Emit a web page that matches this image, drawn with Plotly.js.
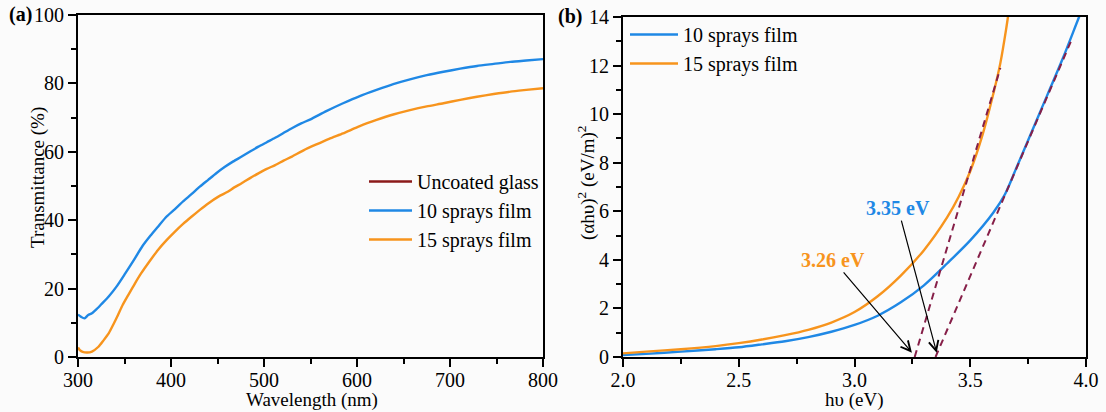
<!DOCTYPE html>
<html>
<head>
<meta charset="utf-8">
<script src="https://cdn.plot.ly/plotly-3.0.1.min.js"></script>
<style>html,body{margin:0;padding:0;background:#fbfbfb;}#chart{width:1106px;height:412px;}</style>
</head>
<body>
<div id="chart"></div>
<script>
// ---- Panel (a): transmittance spectra ----
const wl10 = [300, 303, 307, 311, 315, 320, 326, 333, 342, 351, 360, 369, 378, 386, 395, 404, 413, 422, 431, 440, 449, 458, 467, 476, 485, 494, 503, 512, 521, 530, 540, 550, 567, 585, 603, 621, 639, 657, 675, 693, 711, 729, 747, 765, 782, 800];
const t10  = [12.4, 11.8, 11.3, 12.3, 12.8, 14.0, 15.7, 17.7, 20.8, 24.5, 28.3, 32.3, 35.5, 38.1, 41.0, 43.2, 45.5, 47.6, 49.8, 51.8, 53.8, 55.6, 57.2, 58.6, 60.1, 61.5, 62.8, 64.1, 65.5, 66.9, 68.3, 69.5, 71.9, 74.2, 76.3, 78.1, 79.8, 81.2, 82.4, 83.4, 84.3, 85.1, 85.7, 86.3, 86.7, 87.1];
const wl15 = [300, 302, 305, 310, 315, 322, 327, 333, 338, 343, 348, 354, 361, 368, 377, 386, 395, 404, 413, 422, 431, 440, 451, 461, 468, 476, 485, 494, 503, 512, 521, 530, 543, 555, 570, 585, 603, 621, 639, 657, 675, 693, 711, 729, 747, 765, 782, 800];
const t15  = [2.8, 2.0, 1.5, 1.3, 1.6, 3.0, 4.7, 6.9, 9.5, 12.3, 15.2, 18.1, 21.4, 24.5, 28.0, 31.3, 34.1, 36.6, 38.9, 41.0, 43.0, 44.9, 46.9, 48.3, 49.6, 50.8, 52.3, 53.7, 55.0, 56.1, 57.4, 58.6, 60.5, 62.0, 63.8, 65.4, 67.5, 69.3, 70.9, 72.2, 73.3, 74.2, 75.2, 76.1, 76.9, 77.6, 78.1, 78.6];
// "Uncoated glass" appears in the legend only; no curve is visible in the plot
const wlGlass = [null];
const tGlass  = [null];

// ---- Panel (b): Tauc plot ----
const e10 = [2.00, 2.10, 2.25, 2.40, 2.50, 2.60, 2.70, 2.80, 2.90, 3.00, 3.10, 3.20, 3.30, 3.40, 3.50, 3.60, 3.65, 3.70, 3.80, 3.90, 3.97, 4.00];
const a10 = [0.08, 0.13, 0.22, 0.32, 0.40, 0.52, 0.65, 0.82, 1.04, 1.32, 1.70, 2.25, 2.95, 3.85, 4.80, 5.95, 6.70, 7.80, 10.05, 12.30, 14.00, 14.70];
const e15 = [2.00, 2.10, 2.25, 2.40, 2.50, 2.60, 2.70, 2.80, 2.90, 3.00, 3.10, 3.20, 3.30, 3.40, 3.45, 3.50, 3.55, 3.60, 3.63, 3.655, 3.675];
const a15 = [0.15, 0.22, 0.32, 0.45, 0.57, 0.72, 0.90, 1.12, 1.42, 1.85, 2.50, 3.35, 4.40, 5.75, 6.60, 7.65, 9.05, 10.85, 12.10, 13.50, 14.80];
// linear fits (tangents) used for the band-gap extrapolation
const fit15E = [3.26, 3.63];
const fit15A = [0.0, 11.9];
const fit10E = [3.35, 3.935];
const fit10A = [0.0, 13.0];
// band-gap labels
const gapLabels = ['3.26 eV', '3.35 eV'];
const gapValues = [3.26, 3.35];

const BLUE = '#1f88e5';
const ORANGE = '#f7941d';
const GLASS = '#8b1a1a';
const FIT = '#861f48';
const FONT = 'Liberation Serif';

const traces = [
  {x: wlGlass, y: tGlass, type: 'scatter', mode: 'lines', name: 'Uncoated glass', showlegend: true,
   line: {color: GLASS, width: 2.4}, xaxis: 'x', yaxis: 'y', legend: 'legend'},
  {x: wl10, y: t10, type: 'scatter', mode: 'lines', name: '10 sprays film',
   line: {color: BLUE, width: 2.4, shape: 'spline', smoothing: 0.6}, xaxis: 'x', yaxis: 'y', legend: 'legend'},
  {x: wl15, y: t15, type: 'scatter', mode: 'lines', name: '15 sprays film',
   line: {color: ORANGE, width: 2.4, shape: 'spline', smoothing: 0.6}, xaxis: 'x', yaxis: 'y', legend: 'legend'},
  {x: e10, y: a10, type: 'scatter', mode: 'lines', name: '10 sprays film',
   line: {color: BLUE, width: 2.4, shape: 'spline', smoothing: 0.8}, xaxis: 'x2', yaxis: 'y2', legend: 'legend2'},
  {x: e15, y: a15, type: 'scatter', mode: 'lines', name: '15 sprays film',
   line: {color: ORANGE, width: 2.4, shape: 'spline', smoothing: 0.8}, xaxis: 'x2', yaxis: 'y2', legend: 'legend2'},
  {x: fit15E, y: fit15A, type: 'scatter', mode: 'lines', showlegend: false,
   line: {color: FIT, width: 2, dash: '7px,5px'}, xaxis: 'x2', yaxis: 'y2'},
  {x: fit10E, y: fit10A, type: 'scatter', mode: 'lines', showlegend: false,
   line: {color: FIT, width: 2, dash: '7px,5px'}, xaxis: 'x2', yaxis: 'y2'}
];

const W = 1106, H = 412;
const px = v => v / W;
const py = v => 1 - v / H;

function axisBase() {
  return {
    showline: true, linewidth: 2, linecolor: '#000', mirror: true,
    showgrid: false, zeroline: false, ticks: 'outside', ticklen: 8, tickwidth: 2, tickcolor: '#000',
    tickfont: {family: FONT, size: 20, color: '#000'}, automargin: false
  };
}

function ann(text, x, y, extra) {
  return Object.assign({text: text, xref: 'paper', yref: 'paper', x: x, y: y, showarrow: false,
    xanchor: 'center', yanchor: 'middle', font: {family: FONT, size: 19, color: '#000'}}, extra || {});
}

const layout = {
  width: W, height: H,
  margin: {l: 0, r: 0, t: 0, b: 0},
  paper_bgcolor: '#fbfbfb', plot_bgcolor: '#fbfbfb',
  font: {family: FONT, size: 20, color: '#000'},
  xaxis: Object.assign(axisBase(), {domain: [px(78), px(543)], range: [300, 800], dtick: 100, tick0: 300,
    ticklabelstandoff: -4,
    minor: {dtick: 50, ticks: 'outside', ticklen: 5, tickwidth: 2, tickcolor: '#000'}, anchor: 'y'}),
  yaxis: Object.assign(axisBase(), {domain: [1 - 357 / H, 1 - 15 / H], range: [0, 100], dtick: 20, tick0: 0,
    minor: {dtick: 10, ticks: 'outside', ticklen: 5, tickwidth: 2, tickcolor: '#000'}, anchor: 'x'}),
  xaxis2: Object.assign(axisBase(), {domain: [px(623), px(1086)], range: [2, 4], dtick: 0.5, tick0: 2, tickformat: '.1f',
    ticklabelstandoff: -4,
    minor: {dtick: 0.25, ticks: 'outside', ticklen: 5, tickwidth: 2, tickcolor: '#000'}, anchor: 'y2'}),
  yaxis2: Object.assign(axisBase(), {domain: [1 - 357 / H, 1 - 17 / H], range: [0, 14], dtick: 2, tick0: 0,
    minor: {dtick: 1, ticks: 'outside', ticklen: 5, tickwidth: 2, tickcolor: '#000'}, anchor: 'x2'}),
  legend: {x: px(364), y: py(162), xanchor: 'left', yanchor: 'top', bgcolor: 'rgba(0,0,0,0)',
    font: {family: FONT, size: 20, color: '#000'}, tracegroupgap: 0, itemwidth: 43},
  legend2: {x: px(625), y: py(15), xanchor: 'left', yanchor: 'top', bgcolor: 'rgba(0,0,0,0)',
    font: {family: FONT, size: 20, color: '#000'}, tracegroupgap: 0, itemwidth: 48},
  annotations: [
    ann('<b>(a)</b>', px(20), py(15), {font: {family: FONT, size: 20, color: '#000'}}),
    ann('<b>(b)</b>', px(570), py(17), {font: {family: FONT, size: 20, color: '#000'}}),
    ann('Transmittance (%)', px(38), py(178), {textangle: -90}),
    ann('Wavelength (nm)', px(312), py(400)),
    ann('(αhυ)<sup>2</sup> (eV/m)<sup>2</sup>', px(586), py(183), {textangle: -90}),
    ann('hυ (eV)', px(854), py(400)),
    // band-gap labels with arrows pointing to the extrapolated intercepts
    {text: '<b>' + gapLabels[0] + '</b>', xref: 'x2', yref: 'y2', x: gapValues[0] - 0.012, y: 0.18,
     axref: 'x2', ayref: 'y2', ax: 2.907, ay: 4.0, showarrow: true,
     arrowhead: 5, arrowsize: 1.6, arrowwidth: 1.2, arrowcolor: '#000', standoff: 0, startstandoff: 0,
     font: {family: FONT, size: 20, color: ORANGE}},
    {text: '<b>' + gapLabels[1] + '</b>', xref: 'x2', yref: 'y2', x: gapValues[1] + 0.005, y: 0.18,
     axref: 'x2', ayref: 'y2', ax: 3.188, ay: 6.13, showarrow: true,
     arrowhead: 5, arrowsize: 1.6, arrowwidth: 1.2, arrowcolor: '#000', standoff: 0, startstandoff: 0,
     font: {family: FONT, size: 20, color: BLUE}}
  ]
};

Plotly.newPlot('chart', traces, layout, {staticPlot: true, displayModeBar: false});
</script>
</body>
</html>
